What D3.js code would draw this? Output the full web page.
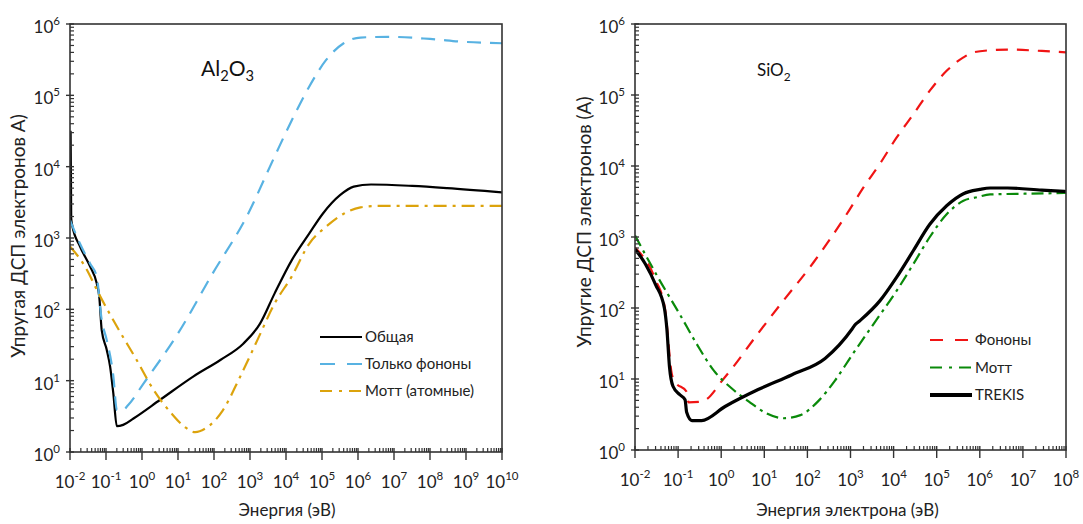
<!DOCTYPE html>
<html>
<head>
<meta charset="utf-8">
<script src="https://cdn.jsdelivr.net/npm/d3@7"></script>
<style>
  html, body { margin: 0; padding: 0; background: #fff; }
  svg { display: block; }
</style>
</head>
<body>
<svg id="chart" width="1083" height="524"></svg>
<script>
// ---- Al2O3 panel: [energy eV, elastic MFP Å] ----
const al2o3Total = [
  [0.01, 2400], [0.0104, 31000], [0.0108, 1900], [0.0115, 1510], [0.019, 760], [0.036, 400],
  [0.055, 234], [0.065, 151], [0.076, 51], [0.105, 27], [0.13, 15.8],
  [0.16, 6.6], [0.2, 2.3], [0.3, 2.4], [0.58, 2.95], [3.2, 5.4],
  [27, 11.5], [150, 19.5], [650, 33], [1900, 63], [4800, 166],
  [14500, 490], [44000, 1150], [105000, 2190], [316000, 3980], [760000, 5250],
  [2.3e6, 5620], [3.2e7, 5370], [3e8, 5010], [1e10, 4370]
];
const al2o3Phonons = [
  [0.01, 1780], [0.019, 830], [0.036, 440], [0.055, 290], [0.076, 71],
  [0.105, 37], [0.16, 11.5], [0.2, 3.9], [0.28, 3.8], [0.42, 4.6],
  [1.1, 9.1], [10, 46], [91, 316], [810, 2000], [4800, 13800],
  [14500, 44700], [44000, 132000], [132000, 316000], [400000, 537000],
  [1.17e6, 646000], [6.9e6, 661000], [1e8, 617000], [9e8, 562000], [1e10, 537000]
];
const al2o3Mott = [
  [0.01, 760], [0.026, 400], [0.063, 166], [0.23, 51], [0.71, 19.5],
  [2.1, 7.4], [6.5, 3.5], [15.5, 2.24], [30, 1.9], [58, 2.14],
  [174, 3.8], [525, 11.2], [1600, 37], [4800, 120], [14500, 290],
  [44000, 830], [132000, 1450], [400000, 2190], [1.17e6, 2690],
  [3.5e6, 2820], [1e10, 2820]
];

// ---- SiO2 panel ----
const sio2Trekis = [
  [0.01, 676], [0.0174, 417], [0.03, 214], [0.048, 100], [0.055, 50],
  [0.063, 15], [0.076, 7.9], [0.11, 6.0], [0.145, 5.1], [0.158, 3.4],
  [0.21, 2.6], [0.35, 2.6], [1.23, 4.1], [7.2, 7.1], [44, 11.5],
  [257, 19.5], [1100, 51], [1250, 57], [1600, 65], [4790, 126],
  [11700, 270], [28800, 645], [69200, 1510], [170000, 2750], [417000, 4070],
  [1e6, 4680], [1.74e6, 4900], [4.4e6, 4900], [2.75e7, 4570], [1e8, 4370]
];
const sio2Phonons = [
  [0.01, 710], [0.03, 250], [0.05, 95], [0.071, 12], [0.085, 9.1],
  [0.158, 6.6], [0.174, 4.7], [0.35, 4.8], [1.23, 10.7], [7.2, 44],
  [23, 110], [138, 437], [813, 2090], [2000, 5000], [4790, 10700],
  [11700, 25100], [28800, 53700], [69200, 115000], [170000, 219000],
  [417000, 339000], [708000, 398000], [1.74e6, 427000], [4.4e6, 437000],
  [2.75e7, 417000], [1e8, 398000]
];
const sio2Mott = [
  [0.01, 1050], [0.035, 263], [0.11, 81], [0.28, 30], [0.69, 12.9],
  [1.74, 7.4], [4.4, 4.8], [11, 3.3], [28, 2.8], [69, 3.1],
  [174, 4.8], [436, 9.5], [1100, 22], [3390, 59], [11700, 174],
  [28800, 417], [69200, 1000], [170000, 2090], [417000, 3240],
  [851000, 3630], [1.74e6, 3980], [1.1e7, 4070], [1e8, 4170]
];

// ---- tick exponents ----
const yTickExps = [0, 1, 2, 3, 4, 5, 6];
const xTickExpsAl = [-2, -1, 0, 1, 2, 3, 4, 5, 6, 7, 8, 9, 10];
const xTickExpsSi = [-2, -1, 0, 1, 2, 3, 4, 5, 6, 7, 8];

const FONT = "Lato, 'Open Sans', 'DejaVu Sans', sans-serif";
const AXIS = "#333";
const svg = d3.select("#chart");

function drawPanel(cfg) {
  const x = d3.scaleLog().domain(cfg.xDomain).range([cfg.x0, cfg.x1]);
  const y = d3.scaleLog().domain([1, 1e6]).range([cfg.y1, cfg.y0]);
  const g = svg.append("g");

  // clipped series
  const clipId = "clip-" + cfg.id;
  svg.append("clipPath").attr("id", clipId).append("rect")
    .attr("x", cfg.x0).attr("y", cfg.y0 - 2)
    .attr("width", cfg.x1 - cfg.x0).attr("height", cfg.y1 - cfg.y0 + 2);

  const lineGen = d3.line().x(d => x(d[0])).y(d => y(d[1])).curve(d3.curveMonotoneX);

  const series = g.append("g").attr("clip-path", `url(#${clipId})`);
  cfg.series.forEach(s => {
    series.append("path").datum(s.data)
      .attr("d", lineGen)
      .attr("fill", "none")
      .attr("stroke", s.color)
      .attr("stroke-width", s.width)
      .attr("stroke-dasharray", s.dash || null)
      .attr("stroke-linejoin", "round");
  });

  // frame
  g.append("rect")
    .attr("x", cfg.x0).attr("y", cfg.y0)
    .attr("width", cfg.x1 - cfg.x0).attr("height", cfg.y1 - cfg.y0)
    .attr("fill", "none").attr("stroke", AXIS).attr("stroke-width", 1.6);

  // x ticks
  const [xe0, xe1] = [cfg.xExps[0], cfg.xExps[cfg.xExps.length - 1]];
  for (let e = xe0; e < xe1; e++) {
    for (let k = 2; k <= 9; k++) {
      const px = x(k * Math.pow(10, e));
      g.append("line").attr("x1", px).attr("x2", px)
        .attr("y1", cfg.y1).attr("y2", cfg.y1 - 4)
        .attr("stroke", AXIS).attr("stroke-width", 1.2);
    }
  }
  cfg.xExps.forEach(e => {
    const px = x(Math.pow(10, e));
    g.append("line").attr("x1", px).attr("x2", px)
      .attr("y1", cfg.y1 - 4).attr("y2", cfg.y1 + 8)
      .attr("stroke", AXIS).attr("stroke-width", 1.4);
    const t = g.append("text")
      .attr("x", px).attr("y", cfg.y1 + 36)
      .attr("text-anchor", "middle")
      .attr("font-family", FONT).attr("font-size", 17).attr("fill", "#222");
    t.append("tspan").text("10");
    t.append("tspan").attr("dy", -8).attr("font-size", 11.5).text(e);
  });

  // y ticks
  for (let e = 0; e < 6; e++) {
    for (let k = 2; k <= 9; k++) {
      const py = y(k * Math.pow(10, e));
      g.append("line").attr("x1", cfg.x0).attr("x2", cfg.x0 + 4)
        .attr("y1", py).attr("y2", py)
        .attr("stroke", AXIS).attr("stroke-width", 1.2);
    }
  }
  yTickExps.forEach(e => {
    const py = y(Math.pow(10, e));
    g.append("line").attr("x1", cfg.x0 - 4).attr("x2", cfg.x0 + 4)
      .attr("y1", py).attr("y2", py)
      .attr("stroke", AXIS).attr("stroke-width", 1.4);
    const t = g.append("text")
      .attr("x", cfg.x0 - 10).attr("y", py + 9)
      .attr("text-anchor", "end")
      .attr("font-family", FONT).attr("font-size", 17).attr("fill", "#222");
    t.append("tspan").text("10");
    t.append("tspan").attr("dy", -8).attr("font-size", 11.5).text(e);
  });

  // axis titles
  g.append("text")
    .attr("x", (cfg.x0 + cfg.x1) / 2 + cfg.xTitleShift).attr("y", 516)
    .attr("text-anchor", "middle")
    .attr("font-family", FONT).attr("font-size", 17).attr("fill", "#222")
    .text(cfg.xTitle);
  g.append("text")
    .attr("transform", `translate(${cfg.yTitleX},${cfg.yTitleY}) rotate(-90)`)
    .attr("text-anchor", "middle")
    .attr("font-family", FONT).attr("font-size", 19).attr("fill", "#222")
    .text(cfg.yTitle);

  // material label
  const lab = g.append("text")
    .attr("x", cfg.label.x).attr("y", cfg.label.y)
    .attr("font-family", FONT).attr("font-size", cfg.label.size).attr("fill", "#111");
  cfg.label.parts.forEach(p => {
    if (p.sub) {
      lab.append("tspan").attr("dy", 5).attr("font-size", cfg.label.size * 0.7).text(p.t);
    } else {
      lab.append("tspan").attr("dy", p.after ? -5 : 0).text(p.t);
    }
  });

  // legend
  cfg.series.forEach((s, i) => {
    const ly = cfg.legend.y + i * cfg.legend.step;
    g.append("line")
      .attr("x1", cfg.legend.x).attr("x2", cfg.legend.x + 42)
      .attr("y1", ly).attr("y2", ly)
      .attr("stroke", s.color).attr("stroke-width", s.legendWidth || s.width)
      .attr("stroke-dasharray", s.legendDash || s.dash || null);
    g.append("text")
      .attr("x", cfg.legend.x + 45).attr("y", ly + 5)
      .attr("font-family", FONT).attr("font-size", 15).attr("fill", "#222")
      .text(s.name);
  });
}

drawPanel({
  id: "al", x0: 70, x1: 502, y0: 24, y1: 452, xDomain: [1e-2, 1e10], xExps: xTickExpsAl,
  xTitle: "Энергия (эВ)", xTitleShift: 1,
  yTitle: "Упругая ДСП электронов A)", yTitleX: 25, yTitleY: 236,
  label: { x: 201, y: 76, size: 21, parts: [{ t: "Al" }, { t: "2", sub: true }, { t: "O", after: true }, { t: "3", sub: true }] },
  legend: { x: 320, y: 337, step: 27 },
  series: [
    { name: "Общая", data: al2o3Total, color: "#000", width: 2.2 },
    { name: "Только фононы", data: al2o3Phonons, color: "#58b2e2", width: 2.2, dash: "14 9", legendDash: "15 12" },
    { name: "Мотт (атомные)", data: al2o3Mott, color: "#dca30c", width: 2.2, dash: "13 6 3 6", legendDash: "12 7 3 7" }
  ]
});

drawPanel({
  id: "si", x0: 635, x1: 1066, y0: 24, y1: 450, xDomain: [1e-2, 1e8], xExps: xTickExpsSi,
  xTitle: "Энергия электрона (эВ)", xTitleShift: -3,
  yTitle: "Упругие ДСП электронов (A)", yTitleX: 591, yTitleY: 222,
  label: { x: 757, y: 76, size: 17, parts: [{ t: "SiO" }, { t: "2", sub: true }] },
  legend: { x: 930, y: 340, step: 27.5 },
  series: [
    { name: "Фононы", data: sio2Phonons, color: "#f01414", width: 2.2, dash: "12 9", legendDash: "13 12" },
    { name: "Мотт", data: sio2Mott, color: "#0a8a0a", width: 2.2, dash: "12 5 3 5", legendDash: "12 7 3 7" },
    { name: "TREKIS", data: sio2Trekis, color: "#000", width: 3.2, legendWidth: 4 }
  ]
});
</script>
</body>
</html>
